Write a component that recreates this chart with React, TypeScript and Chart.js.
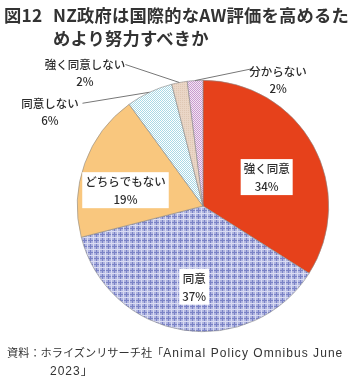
import { useEffect, useRef } from 'react';
import { Chart, registerables } from 'chart.js';

Chart.register(...registerables);

// ---- data ----
const categories = ['強く同意', '同意', 'どちらでもない', '同意しない', '強く同意しない', '分からない'];
const shares = [34, 37, 19, 6, 2, 2];
const percentLabels = ['34%', '37%', '19%', '6%', '2%', '2%'];

const titleLabel = '図12';
const titleLine1 = 'NZ政府は国際的なAW評価を高めるた';
const titleLine2 = 'めより努力すべきか';
const sourceCjk = '資料：ホライズンリサーチ社「';
const sourceLatin = 'Animal Policy Omnibus June';
const sourceLine2 = '2023」';

// ---- label layout (not data) ----
type InLayout = { mode: 'in'; f: number; dx: number; dy: number };
type OutLayout = { mode: 'out'; lx: number; ly: number; tx: number; ty: number };
const labelLayout: (InLayout | OutLayout)[] = [
  { mode: 'in', f: 0.56, dx: 2, dy: 5 },
  { mode: 'in', f: 0.65, dx: 4, dy: 0 },
  { mode: 'in', f: 0.63, dx: -3, dy: 11 },
  { mode: 'out', lx: -67, ly: 11, tx: -99.5, ty: 11 },
  { mode: 'out', lx: -54, ly: -18, tx: -94.5, ty: -18 },
  { mode: 'out', lx: 58, ly: -12, tx: 83, ty: -9 },
];

const FONT = '"Noto Sans CJK JP", "Noto Sans", sans-serif';

function makePattern(w: number, h: number, draw: (c: CanvasRenderingContext2D) => void) {
  const cv = document.createElement('canvas');
  cv.width = w;
  cv.height = h;
  const c = cv.getContext('2d')!;
  draw(c);
  return c.createPattern(cv, 'repeat')!;
}

function buildFills() {
  const red = '#e6411b';
  const plaid = makePattern(6, 6, (c) => {
    c.fillStyle = '#b0b5e0';
    c.fillRect(0, 0, 6, 6);
    c.fillStyle = '#7a82c6';
    c.fillRect(0, 0, 1, 6);
    c.fillRect(0, 0, 6, 1);
    c.fillStyle = '#dadcf3';
    c.fillRect(3, 0, 1, 6);
    c.fillRect(0, 3, 6, 1);
  });
  const peach = '#f9c77e';
  const dotsBlue = makePattern(2, 2, (c) => {
    c.fillStyle = '#ffffff';
    c.fillRect(0, 0, 2, 2);
    c.fillStyle = '#a9d9e6';
    c.fillRect(0, 0, 1, 1);
    c.fillRect(1, 1, 1, 1);
  });
  const beige = makePattern(2, 2, (c) => {
    c.fillStyle = '#ead6c6';
    c.fillRect(0, 0, 2, 2);
    c.fillStyle = '#dfc7b4';
    c.fillRect(0, 0, 1, 1);
  });
  const dotsPink = makePattern(2, 2, (c) => {
    c.fillStyle = '#f3e6f3';
    c.fillRect(0, 0, 2, 2);
    c.fillStyle = '#c99ccf';
    c.fillRect(0, 0, 1, 1);
    c.fillRect(1, 1, 1, 1);
  });
  return [red, plaid, peach, dotsBlue, beige, dotsPink];
}

const labelPlugin = {
  id: 'pieLabels',
  afterDatasetsDraw(chart: any) {
    const ctx: CanvasRenderingContext2D = chart.ctx;
    const meta = chart.getDatasetMeta(0);
    ctx.save();
    ctx.font = `500 11.5px ${FONT}`;
    ctx.textAlign = 'center';
    ctx.textBaseline = 'middle';
    meta.data.forEach((arc: any, i: number) => {
      const lay = labelLayout[i];
      const mid = (arc.startAngle + arc.endAngle) / 2;
      const R = arc.outerRadius;
      const l1 = categories[i];
      const l2 = percentLabels[i];
      if (lay.mode === 'in') {
        const cx = arc.x + Math.cos(mid) * R * lay.f + lay.dx;
        const cy = arc.y + Math.sin(mid) * R * lay.f + lay.dy;
        const w = Math.max(ctx.measureText(l1).width, ctx.measureText(l2).width) + 6;
        const h = 36;
        ctx.fillStyle = '#ffffff';
        ctx.fillRect(cx - w / 2, cy - h / 2, w, h);
        ctx.fillStyle = '#2b2b2b';
        ctx.fillText(l1, cx, cy - 8.5);
        ctx.fillText(l2, cx, cy + 9.5);
      } else {
        const ax = arc.x + Math.cos(mid) * R;
        const ay = arc.y + Math.sin(mid) * R;
        ctx.strokeStyle = '#777777';
        ctx.lineWidth = 1;
        ctx.beginPath();
        ctx.moveTo(ax, ay);
        ctx.lineTo(ax + lay.lx, ay + lay.ly);
        ctx.stroke();
        ctx.fillStyle = '#2b2b2b';
        ctx.fillText(l1, ax + lay.tx, ay + lay.ty);
        ctx.fillText(l2, ax + lay.tx, ay + lay.ty + 17);
      }
    });
    ctx.restore();
  },
};

export default function App() {
  const ref = useRef<HTMLCanvasElement>(null);
  useEffect(() => {
    if (!ref.current) return;
    const chart = new Chart(ref.current, {
      type: 'pie',
      data: {
        labels: categories,
        datasets: [
          {
            data: shares,
            backgroundColor: buildFills() as any,
            borderColor: '#8a8a8a',
            borderWidth: 0.6,
          },
        ],
      },
      options: {
        animation: false,
        responsive: false,
        events: [],
        layout: { padding: { left: 77, right: 21, top: 80, bottom: 45 } },
        plugins: {
          legend: { display: false },
          tooltip: { enabled: false },
          title: { display: false },
        },
      },
      plugins: [labelPlugin],
    });
    return () => chart.destroy();
  }, []);

  return (
    <div
      style={{
        position: 'absolute',
        left: 0,
        top: 0,
        width: 350,
        height: 377,
        background: '#fff',
        overflow: 'hidden',
        fontFamily: FONT,
        color: '#333',
      }}
    >
      <canvas ref={ref} width={350} height={377} style={{ position: 'absolute', left: 0, top: 0 }} />
      <div style={{ position: 'absolute', left: 4, top: 3, fontSize: 17.3, fontWeight: 'bold', lineHeight: '23px', whiteSpace: 'nowrap', letterSpacing: 0.2 }}>
        {titleLabel}
      </div>
      <div style={{ position: 'absolute', left: 53, top: 3, fontSize: 17.3, fontWeight: 'bold', lineHeight: '23px', whiteSpace: 'nowrap', letterSpacing: 0.2 }}>
        {titleLine1}
        <br />
        {titleLine2}
      </div>
      <div style={{ position: 'absolute', left: 7, top: 344, fontSize: 11.2, lineHeight: '17px', whiteSpace: 'nowrap' }}>
        {sourceCjk}
        <span style={{ fontFamily: '"Liberation Sans", Arial, sans-serif', fontSize: 12, letterSpacing: 1.05 }}>{sourceLatin}</span>
      </div>
      <div style={{ position: 'absolute', left: 50, top: 361, fontSize: 12, lineHeight: '17px', whiteSpace: 'nowrap', fontFamily: '"Liberation Sans", Arial, sans-serif', letterSpacing: 1 }}>
        {sourceLine2.slice(0, 4)}
        <span style={{ fontFamily: FONT }}>{sourceLine2.slice(4)}</span>
      </div>
    </div>
  );
}
